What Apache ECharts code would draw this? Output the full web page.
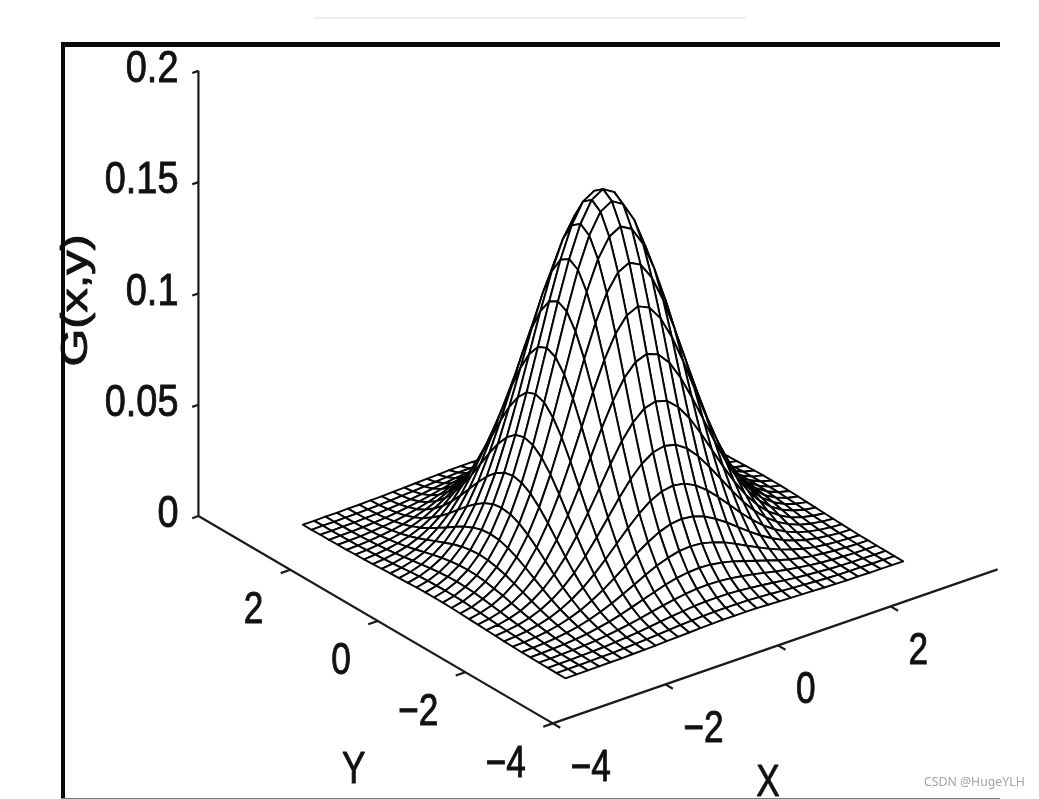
<!DOCTYPE html>
<html>
<head>
<meta charset="utf-8">
<style>
  html, body { margin: 0; padding: 0; background: #fff; }
  #chart { width: 1039px; height: 799px; }
</style>
<script src="https://cdn.jsdelivr.net/npm/echarts@6/dist/echarts.min.js"></script>
</head>
<body>
<div id="chart"></div>
<script>
// mesh positions from the centre out to 3, both X and Y use the same ones
const meshSteps = [0, 0.2, 0.4, 0.6, 0.8, 1, 1.2, 1.4, 1.6, 1.8, 2, 2.2, 2.4, 2.6, 2.8, 3]

// G(x,y) read for one quadrant of the surface, the other three mirror it
const gQuadrant = [
  [.1590, .1559, .1468, .1328, .1155, .0964, .0774, .0597, .0442, .0315, .0215, .0141, .0089, .0054, .0031, .0018],
  [.1559, .1528, .1439, .1302, .1132, .0945, .0759, .0585, .0433, .0309, .0211, .0138, .0087, .0053, .0030, .0018],
  [.1468, .1439, .1355, .1226, .1066, .0890, .0714, .0551, .0408, .0291, .0198, .0130, .0082, .0050, .0029, .0017],
  [.1328, .1302, .1226, .1109, .0965, .0805, .0647, .0499, .0369, .0263, .0180, .0118, .0074, .0045, .0026, .0015],
  [.1155, .1132, .1066, .0965, .0839, .0700, .0562, .0433, .0321, .0229, .0156, .0102, .0065, .0039, .0023, .0013],
  [.0964, .0945, .0890, .0805, .0700, .0585, .0469, .0362, .0268, .0191, .0130, .0086, .0054, .0033, .0019, .0011],
  [.0774, .0759, .0714, .0647, .0562, .0469, .0377, .0291, .0215, .0153, .0105, .0069, .0043, .0026, .0015, .0009],
  [.0597, .0585, .0551, .0499, .0433, .0362, .0291, .0224, .0166, .0118, .0081, .0053, .0033, .0020, .0012, .0007],
  [.0442, .0433, .0408, .0369, .0321, .0268, .0215, .0166, .0123, .0088, .0060, .0039, .0025, .0015, .0009, .0005],
  [.0315, .0309, .0291, .0263, .0229, .0191, .0153, .0118, .0088, .0062, .0043, .0028, .0018, .0011, .0006, .0004],
  [.0215, .0211, .0198, .0180, .0156, .0130, .0105, .0081, .0060, .0043, .0029, .0019, .0012, .0007, .0004, .0002],
  [.0141, .0138, .0130, .0118, .0102, .0086, .0069, .0053, .0039, .0028, .0019, .0013, .0008, .0005, .0003, .0002],
  [.0089, .0087, .0082, .0074, .0065, .0054, .0043, .0033, .0025, .0018, .0012, .0008, .0005, .0003, .0002, .0001],
  [.0054, .0053, .0050, .0045, .0039, .0033, .0026, .0020, .0015, .0011, .0007, .0005, .0003, .0002, .0001, .0001],
  [.0031, .0030, .0029, .0026, .0023, .0019, .0015, .0012, .0009, .0006, .0004, .0003, .0002, .0001, .0001, .0000],
  [.0018, .0018, .0017, .0015, .0013, .0011, .0009, .0007, .0005, .0004, .0002, .0002, .0001, .0001, .0000, .0000]
]

const zTicks = [0, 0.05, 0.1, 0.15, 0.2]
const zTickLabels = ['0', '0.05', '0.1', '0.15', '0.2']
const yTicks = [-4, -2, 0, 2]
const yTickLabels = ['\u22124', '\u22122', '0', '2']
const xTicks = [-4, -2, 0, 2]
const xTickLabels = ['\u22124', '\u22122', '0', '2']

const xAxisRange = [-4, 3.9]
const yAxisRange = [-4, 4.1]

// oblique view, plot plane units are the hidden axes below
function project (x, y, z) {
  return [603 + 56.3 * x - 43.75 * y, 543 - 19.5 * x - 25.6 * y - 2226 * z]
}

// signed mesh index to its position on the axis
function meshValue (i) {
  return i < 0 ? -meshSteps[-i] : meshSteps[i]
}

// cells from the back corner to the front so the white fill hides what is behind
const cells = []
const last = meshSteps.length - 1
const order = []
for (let i = last - 1; i >= -last; i--) {
  for (let j = last - 1; j >= -last; j--) {
    order.push([i, j])
  }
}
order.sort((a, b) => (b[0] + b[1]) - (a[0] + a[1]))
order.forEach(([i, j]) => {
  const g = (a, b) => gQuadrant[Math.abs(a)][Math.abs(b)]
  cells.push([
    meshValue(i), meshValue(j), meshValue(i + 1), meshValue(j + 1),
    g(i, j), g(i + 1, j), g(i + 1, j + 1), g(i, j + 1)
  ])
})

function renderCell (params, api) {
  const x0 = api.value(0)
  const y0 = api.value(1)
  const x1 = api.value(2)
  const y1 = api.value(3)
  const points = [
    project(x0, y0, api.value(4)),
    project(x1, y0, api.value(5)),
    project(x1, y1, api.value(6)),
    project(x0, y1, api.value(7))
  ].map(p => api.coord(p))
  return {
    type: 'polygon',
    shape: { points: points },
    style: { fill: '#fff', stroke: '#050505', lineWidth: 1.9, lineJoin: 'round' }
  }
}

// axis segments, [x0, y0, z0, x1, y1, z1]
const yEnd = yAxisRange[1]
const axisLines = [
  [xAxisRange[0], yAxisRange[0], 0, xAxisRange[1], yAxisRange[0], 0],
  [xAxisRange[0], yAxisRange[0], 0, xAxisRange[0], yEnd, 0],
  [xAxisRange[0], yEnd, 0, xAxisRange[0], yEnd, zTicks[4]]
]
const tickLines = []
zTicks.forEach(z => tickLines.push([xAxisRange[0], yEnd, z, xAxisRange[0] - 0.11, yEnd, z]))
yTicks.forEach(y => tickLines.push([xAxisRange[0], y, 0, xAxisRange[0] - 0.17, y, 0]))
xTicks.forEach(x => tickLines.push([x, yAxisRange[0], 0, x, yAxisRange[0] - 0.17, 0]))

function renderSegment (params, api) {
  const a = api.coord(project(api.value(0), api.value(1), api.value(2)))
  const b = api.coord(project(api.value(3), api.value(4), api.value(5)))
  return {
    type: 'line',
    shape: { x1: a[0], y1: a[1], x2: b[0], y2: b[1] },
    style: { stroke: '#1a1a1a', lineWidth: 2.2 }
  }
}

function textItem (pos, text, align, scaleX, rotation, size) {
  return {
    type: 'text',
    x: pos[0],
    y: pos[1],
    scaleX: scaleX,
    rotation: rotation || 0,
    style: {
      text: text,
      x: 0,
      y: 0,
      align: align,
      verticalAlign: 'middle',
      fill: '#111',
      stroke: '#111',
      lineWidth: 0.9,
      font: (size || 44) + 'px "Liberation Sans", Arial, sans-serif'
    }
  }
}

// [x, y, z, text index, kind]
const labelRows = []
zTicks.forEach((z, i) => labelRows.push([xAxisRange[0], yEnd, z, i, 0]))
yTicks.forEach((y, i) => labelRows.push([xAxisRange[0], y, 0, i, 1]))
xTicks.forEach((x, i) => labelRows.push([x, yAxisRange[0], 0, i, 2]))
labelRows.push([xAxisRange[0], 0, 0, 0, 3])
labelRows.push([0, yAxisRange[0], 0, 0, 4])
labelRows.push([xAxisRange[0], yEnd, zTicks[2], 0, 5])

function renderLabel (params, api) {
  const p = api.coord(project(api.value(0), api.value(1), api.value(2)))
  const i = api.value(3)
  const kind = api.value(4)
  if (kind === 0) return textItem([p[0] - 20, p[1] - 1], zTickLabels[i], 'right', 0.86)
  if (kind === 1) return textItem([p[0] - 27, p[1] + 41], yTickLabels[i], 'right', 0.8)
  if (kind === 2) return textItem([p[0] + 18, p[1] + 45], xTickLabels[i], 'left', 0.8)
  if (kind === 3) return textItem([p[0] - 24, p[1] + 150], 'Y', 'center', 0.8)
  if (kind === 4) return textItem([p[0] - 10, p[1] + 138], 'X', 'center', 0.8)
  return textItem([p[0] - 121, p[1] + 7], 'G(x,y)', 'center', 1.35, Math.PI / 2, 36)
}

const myChart = echarts.init(document.getElementById('chart'), null, { renderer: 'canvas' })
myChart.setOption({
  animation: false,
  backgroundColor: '#fff',
  grid: { left: 0, right: 0, top: 0, bottom: 0 },
  xAxis: { type: 'value', min: 0, max: 1039, show: false },
  yAxis: { type: 'value', min: 0, max: 799, inverse: true, show: false },
  series: [
    {
      type: 'custom',
      coordinateSystem: 'cartesian2d',
      silent: true,
      clip: false,
      progressive: 0,
      data: axisLines.concat(tickLines),
      renderItem: renderSegment
    },
    {
      type: 'custom',
      coordinateSystem: 'cartesian2d',
      silent: true,
      clip: false,
      progressive: 0,
      data: cells,
      renderItem: renderCell
    },
    {
      type: 'custom',
      coordinateSystem: 'cartesian2d',
      silent: true,
      clip: false,
      progressive: 0,
      data: labelRows,
      renderItem: renderLabel
    }
  ],
  // the frame and marks left over from the scanned page
  graphic: [
    { type: 'rect', z: 100, shape: { x: 314, y: 17, width: 432, height: 2 }, style: { fill: '#eeeeee' } },
    { type: 'rect', z: 100, shape: { x: 61, y: 42, width: 939, height: 5 }, style: { fill: '#0a0a0a' } },
    { type: 'rect', z: 100, shape: { x: 61, y: 42, width: 4, height: 757 }, style: { fill: '#0a0a0a' } },
    { type: 'rect', z: 100, shape: { x: 61, y: 798, width: 939, height: 1 }, style: { fill: '#777' } },
    {
      type: 'text',
      z: 100,
      x: 924,
      y: 776,
      style: { text: 'CSDN @HugeYLH', fill: '#a3a3a3', font: '12.3px "Noto Sans", sans-serif' }
    }
  ]
})
</script>
</body>
</html>
